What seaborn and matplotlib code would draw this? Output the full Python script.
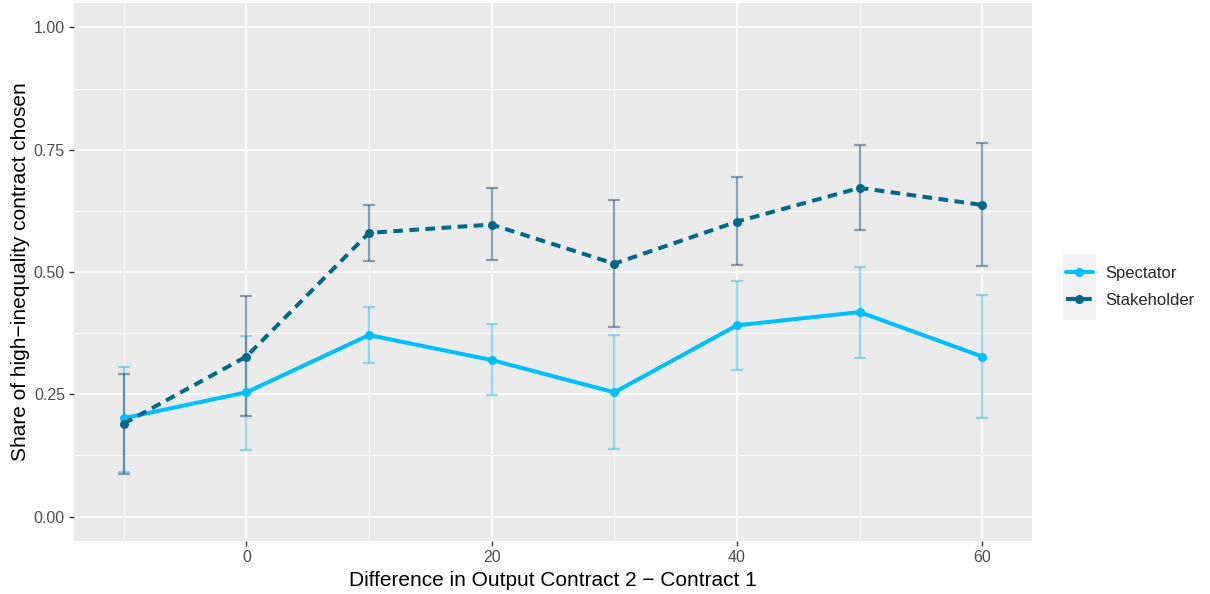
import matplotlib
matplotlib.use("Agg")
import matplotlib.pyplot as plt
import matplotlib.patches as mpatches
from matplotlib.lines import Line2D
import numpy as np
import pandas as pd
import seaborn as sns

# data
diff = [-10, 0, 10, 20, 30, 40, 50, 60]
spectator = [0.201, 0.254, 0.371, 0.320, 0.254, 0.391, 0.418, 0.327]
spectator_lo = [0.092, 0.137, 0.314, 0.249, 0.138, 0.299, 0.325, 0.202]
spectator_hi = [0.306, 0.370, 0.428, 0.393, 0.371, 0.482, 0.510, 0.452]
stakeholder = [0.190, 0.327, 0.580, 0.597, 0.517, 0.603, 0.672, 0.637]
stakeholder_lo = [0.088, 0.205, 0.522, 0.525, 0.388, 0.514, 0.586, 0.513]
stakeholder_hi = [0.291, 0.450, 0.637, 0.671, 0.647, 0.694, 0.759, 0.763]
groups = ["Spectator", "Stakeholder"]

line_colors = {"Spectator": "#00BFFF", "Stakeholder": "#00688B"}
err_colors = {"Spectator": "#33BBEE", "Stakeholder": "#1F4E74"}

df = pd.concat(
    [
        pd.DataFrame({"diff": diff, "share": spectator, "lo": spectator_lo,
                      "hi": spectator_hi, "group": "Spectator"}),
        pd.DataFrame({"diff": diff, "share": stakeholder, "lo": stakeholder_lo,
                      "hi": stakeholder_hi, "group": "Stakeholder"}),
    ],
    ignore_index=True,
)

sns.set_theme(style="darkgrid", rc={
    "axes.facecolor": "#EBEBEB",
    "grid.color": "white",
    "axes.edgecolor": "#EBEBEB",
    "xtick.bottom": True,
    "ytick.left": True,
})
plt.rcParams["font.family"] = ["Liberation Sans", "DejaVu Sans"]

fig = plt.figure(figsize=(12.1, 5.94), dpi=100)
ax = fig.add_axes([74 / 1210, 1 - 541 / 594, (1032 - 74) / 1210, (541 - 3) / 594])

for g in groups:
    sub = df[df["group"] == g]
    ax.errorbar(
        sub["diff"], sub["share"],
        yerr=[sub["share"] - sub["lo"], sub["hi"] - sub["share"]],
        fmt="none", ecolor=err_colors[g], alpha=0.5,
        elinewidth=1.6, capsize=4.3, capthick=1.6, zorder=2,
    )

sns.lineplot(
    data=df, x="diff", y="share", hue="group", style="group",
    hue_order=groups, style_order=groups,
    palette=line_colors,
    dashes={"Spectator": "", "Stakeholder": (2.4, 1.6)},
    markers={"Spectator": "o", "Stakeholder": "o"},
    markersize=6.5, markeredgewidth=0, linewidth=2.9,
    legend=False, ax=ax, zorder=3,
)

ax.set_xlim(-14.05, 64.05)
ax.set_ylim(-0.05, 1.05)
ax.set_xticks([0, 20, 40, 60])
ax.set_xticks([-10, 10, 30, 50], minor=True)
ax.set_yticks([0, 0.25, 0.5, 0.75, 1.0])
ax.set_yticklabels(["0.00", "0.25", "0.50", "0.75", "1.00"])
ax.set_yticks([0.125, 0.375, 0.625, 0.875], minor=True)
ax.grid(which="major", color="white", linewidth=1.3)
ax.grid(which="minor", color="white", linewidth=0.65)
ax.tick_params(axis="both", which="major", labelsize=11.5, labelcolor="#4D4D4D",
               color="#333333", length=3.5, width=1.0, pad=3)
ax.tick_params(axis="both", which="minor", length=0)
for s in ax.spines.values():
    s.set_visible(False)

ax.set_xlabel("Difference in Output Contract 2 \u2212 Contract 1", fontsize=15, color="black", labelpad=4)
ax.set_ylabel("Share of high\u2212inequality contract chosen", fontsize=15, color="black", labelpad=3)

# legend in ggplot style
fig.add_artist(mpatches.Rectangle((1063 / 1210, 1 - 320 / 594), 33 / 1210, 66 / 594,
                                  transform=fig.transFigure, facecolor="#F2F2F2",
                                  edgecolor="none", zorder=0))
handles = [
    Line2D([], [], color=line_colors["Spectator"], lw=2.9, marker="o", markersize=6.5,
           markeredgewidth=0),
    Line2D([], [], color=line_colors["Stakeholder"], lw=2.9, marker="o", markersize=6.5,
           markeredgewidth=0, dashes=(2.4, 1.6)),
]
fig.legend(handles, groups, loc="center left", bbox_to_anchor=(1066 / 1210, 1 - 287 / 594),
           frameon=False, fontsize=12, handlelength=1.6, handletextpad=0.75,
           labelspacing=0.75, borderpad=0, borderaxespad=0)

fig.savefig("out.png", dpi=100)
